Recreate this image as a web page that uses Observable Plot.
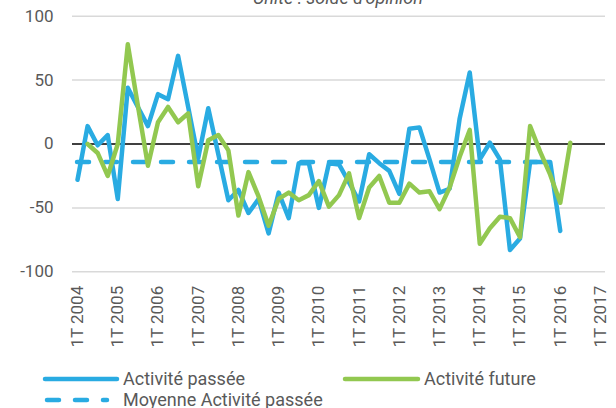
<!DOCTYPE html>
<html><head><meta charset="utf-8">
<script src="https://cdn.jsdelivr.net/npm/d3@7"></script>
<script src="https://cdn.jsdelivr.net/npm/@observablehq/plot@0.6"></script>
<style>body{margin:0;background:#fff;font-family:Roboto,sans-serif;}</style>
</head><body><div id="chart"></div>
<script>
// Tick labels (one per year, first quarter)
const yearLabels = ["1T 2004","1T 2005","1T 2006","1T 2007","1T 2008","1T 2009","1T 2010","1T 2011","1T 2012","1T 2013","1T 2014","1T 2015","1T 2016","1T 2017"];
const yTicks = [-100, -50, 0, 50, 100];
const title = "Unité : solde d'opinion";
const seriesNames = ["Activité passée", "Activité future", "Moyenne Activité passée"];

// Activité passée: quarterly, from 1T 2004 to 1T 2016
const activitePassee = [-28, 14, -1, 7, -43, 44, 29, 14, 39, 35, 69, 29, -11, 28, -8, -44,
  -36, -54, -43, -70, -38, -58, -15, -15, -50, -15, -16, -30, -45, -8, -15, -21,
  -39, 12, 13, -12, -38, -35, 20, 56, -12, 1, -12, -83, -74, -14, -14, -14, -68];
const passeeStart = 0; // 1T 2004

// Activité future: quarterly, from 2T 2004 to 2T 2016
const activiteFuture = [0, -7, -25, 0, 78, 30, -17, 17, 29, 17, 24, -33, 3, 7, -5,
  -56, -22, -41, -64, -43, -38, -44, -40, -29, -49, -40, -23, -58, -34, -25, -46,
  -46, -31, -38, -37, -51, -34, -10, 11, -78, -66, -57, -58, -73, 14, -6, -24, -46, 1];
const futureStart = 1; // 2T 2004

// Moyenne Activité passée: constant from 1T 2004 to 4T 2015
const moyenneValue = -14;
const moyenneRange = [0, 47];

const blue = "#29abe2", green = "#92c850", grey = "#595959";

const passeeRows = activitePassee.map((v, k) => ({q: passeeStart + k, v}));
const futureRows = activiteFuture.map((v, k) => ({q: futureStart + k, v}));
const moyenneRows = [{q1: moyenneRange[0], q2: moyenneRange[1], v: moyenneValue}];
const yearRows = yearLabels.map((t, k) => ({q: k * 4, t}));

const chart = Plot.plot({
  width: 616, height: 408,
  marginLeft: 72, marginRight: 11, marginTop: 15.7, marginBottom: 136.7,
  style: {fontFamily: "Roboto", fontSize: "17px", color: grey, background: "#fff"},
  x: {domain: [-0.5, 52.5], axis: null},
  y: {domain: [-100, 100], axis: null},
  marks: [
    Plot.ruleY(yTicks.filter(d => d !== 0), {stroke: "#d9d9d9", strokeWidth: 1.5}),
    Plot.ruleY([0], {stroke: "#000", strokeWidth: 1.5}),
    Plot.text(yTicks, {x: -0.5, y: d => d, text: d => String(d), textAnchor: "end", dx: -19, fill: grey, fontSize: 17}),
    Plot.text(yearRows, {x: "q", y: -100, text: "t", rotate: -90, textAnchor: "end", dy: 14, fill: grey, fontSize: 17}),
    Plot.lineY(passeeRows, {x: "q", y: "v", stroke: blue, strokeWidth: 4.5, strokeLinejoin: "round", strokeLinecap: "round"}),
    Plot.ruleY(moyenneRows, {x1: "q1", x2: "q2", y: "v", stroke: blue, strokeWidth: 4.5, strokeDasharray: "12,16", strokeLinecap: "round"}),
    Plot.lineY(futureRows, {x: "q", y: "v", stroke: green, strokeWidth: 4.5, strokeLinejoin: "round", strokeLinecap: "round"})
  ]
});
document.getElementById("chart").appendChild(chart);

const svg = d3.select(chart);
svg.append("text").attr("x", 338).attr("y", 4).attr("text-anchor", "middle")
  .attr("font-style", "italic").attr("font-size", 18).attr("fill", grey).text(title);

const legend = [
  {name: seriesNames[0], x1: 45, x2: 117, y: 379, color: blue, dash: null, tx: 123},
  {name: seriesNames[1], x1: 345, x2: 418, y: 379, color: green, dash: null, tx: 424},
  {name: seriesNames[2], x1: 47, x2: 107, y: 400, color: blue, dash: "12,16", tx: 123}
];
const lg = svg.append("g");
legend.forEach(d => {
  lg.append("line").attr("x1", d.x1).attr("x2", d.x2).attr("y1", d.y).attr("y2", d.y)
    .attr("stroke", d.color).attr("stroke-width", 4.5).attr("stroke-linecap", "round")
    .attr("stroke-dasharray", d.dash);
  lg.append("text").attr("x", d.tx).attr("y", d.y).attr("dy", "0.35em")
    .attr("text-anchor", "start")
    .attr("font-size", 18).attr("fill", grey).text(d.name);
});
</script></body></html>
